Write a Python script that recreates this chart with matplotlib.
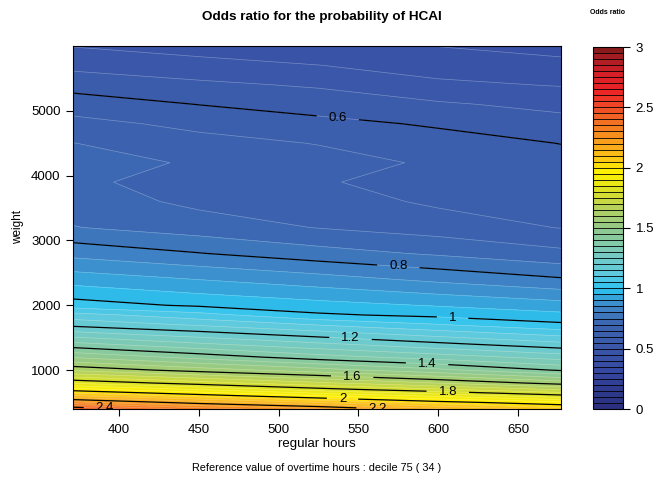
import numpy as np
import matplotlib.pyplot as plt
from matplotlib.colors import LinearSegmentedColormap

plt.rcParams['font.family'] = ['Liberation Sans', 'DejaVu Sans']

# grid: odds ratio at (weight row, regular hours column)
hours = [371, 450, 525, 600, 677]
weights = [400, 500, 600, 700, 800, 1000, 1200, 1400, 1700, 1850, 2000, 2400,
           2800, 3200, 3600, 3900, 4200, 4500, 4800, 5100, 5400, 5700, 6000]
odds = [
    [2.450, 2.330, 2.260, 2.160, 2.070],
    [2.271, 2.177, 2.100, 2.022, 1.964],
    [2.113, 2.032, 1.957, 1.892, 1.820],
    [1.975, 1.899, 1.823, 1.761, 1.696],
    [1.845, 1.775, 1.711, 1.649, 1.580],
    [1.641, 1.577, 1.522, 1.463, 1.394],
    [1.495, 1.432, 1.372, 1.327, 1.278],
    [1.366, 1.309, 1.261, 1.213, 1.166],
    [1.185, 1.143, 1.097, 1.053, 1.011],
    [1.120, 1.068, 1.008, 0.987, 0.963],
    [1.023, 0.992, 0.968, 0.946, 0.920],
    [0.928, 0.899, 0.871, 0.838, 0.806],
    [0.834, 0.802, 0.770, 0.743, 0.713],
    [0.752, 0.725, 0.698, 0.677, 0.648],
    [0.727, 0.688, 0.674, 0.641, 0.622],
    [0.709, 0.681, 0.655, 0.629, 0.602],
    [0.720, 0.694, 0.668, 0.643, 0.617],
    [0.701, 0.667, 0.648, 0.620, 0.599],
    [0.666, 0.637, 0.614, 0.594, 0.569],
    [0.626, 0.599, 0.579, 0.557, 0.535],
    [0.581, 0.560, 0.544, 0.510, 0.497],
    [0.537, 0.519, 0.501, 0.478, 0.464],
    [0.498, 0.477, 0.459, 0.449, 0.432],
]

line_levels = [0.6, 0.8, 1.0, 1.2, 1.4, 1.6, 1.8, 2.0, 2.2, 2.4]
# where the contour labels sit (hours, weight)
label_spots = [(537, 4877), (575, 2590), (609, 1803), (545, 1479), (593, 1077),
               (546, 861), (606, 660), (540, 552), (562, 415), (391, 412)]

cb_ticks = [0, 0.5, 1, 1.5, 2, 2.5, 3]

palette = [(0.00, '#2a2f7e'), (0.15, '#2e3a8c'), (0.30, '#3547a0'),
           (0.50, '#3a56a8'), (0.70, '#3c63b0'), (0.85, '#3f88c8'),
           (1.00, '#2cc4f0'), (1.10, '#5ac9e2'), (1.25, '#72cbc8'),
           (1.50, '#92c98c'), (1.65, '#b0d062'), (1.80, '#d9df2a'),
           (1.97, '#fff200'), (2.10, '#fbc318'), (2.25, '#f7981d'),
           (2.45, '#f15a25'), (2.65, '#ed2226'), (2.80, '#d02027'),
           (2.92, '#a61d22'), (3.00, '#7f1a1a')]
cmap = LinearSegmentedColormap.from_list('odds', [(v / 3.0, c) for v, c in palette])

X, Y = np.meshgrid(hours, weights)
Z = np.array(odds)
fill_levels = np.round(np.arange(0, 3.0001, 0.05), 2)

fig = plt.figure(figsize=(6.62, 4.8), dpi=100)
ax = fig.add_axes([73 / 662, 1 - 409 / 480, 488 / 662, 363 / 480])
cax = fig.add_axes([593 / 662, 1 - 409 / 480, 30 / 662, 362 / 480])

cf = ax.contourf(X, Y, Z, levels=fill_levels, cmap=cmap, vmin=0, vmax=3)
ax.contour(X, Y, Z, levels=fill_levels, colors='white', linewidths=0.5, alpha=0.3)
cs = ax.contour(X, Y, Z, levels=line_levels, colors='black', linewidths=0.9)
labs = ax.clabel(cs, levels=line_levels, manual=label_spots, fontsize=9.5,
                 inline=True, inline_spacing=12,
                 fmt=lambda v: ('%g' % v))
for t in labs:
    t.set_clip_on(True)
    t.set_rotation(0)

ax.set_xlim(371, 677)
ax.set_ylim(400, 6000)
ax.set_xticks([400, 450, 500, 550, 600, 650])
ax.set_yticks([1000, 2000, 3000, 4000, 5000])
ax.tick_params(direction='out', length=5, width=0.8, labelsize=9.5, pad=4,
               top=False, right=False)
ax.tick_params(axis='x', pad=6)
ax.set_xlabel('regular hours', fontsize=9.5, labelpad=1)
ax.set_ylabel('weight', fontsize=8.5, labelpad=5)
for s in ax.spines.values():
    s.set_linewidth(0.8)

cb = fig.colorbar(cf, cax=cax, ticks=cb_ticks, drawedges=True)
cb.ax.set_ylim(0, 3)
cb.dividers.set_color('black')
cb.dividers.set_linewidth(0.6)
cb.outline.set_linewidth(0.8)
cb.ax.tick_params(direction='out', length=5, width=0.8, labelsize=9.5, pad=4)
cb.ax.set_yticklabels(['0', '0.5', '1', '1.5', '2', '2.5', '3'])

fig.text(322 / 662, 1 - 17 / 480, 'Odds ratio for the probability of HCAI',
         ha='center', va='center', fontsize=9.7, fontweight='bold')
fig.text(608 / 662, 1 - 13 / 480, 'Odds ratio', ha='center', va='center',
         fontsize=5, fontweight='bold')
fig.text(317 / 662, 1 - 468 / 480,
         'Reference value of overtime hours : decile 75 ( 34 )',
         ha='center', va='center', fontsize=7.8)

fig.savefig('out.png', dpi=100)
